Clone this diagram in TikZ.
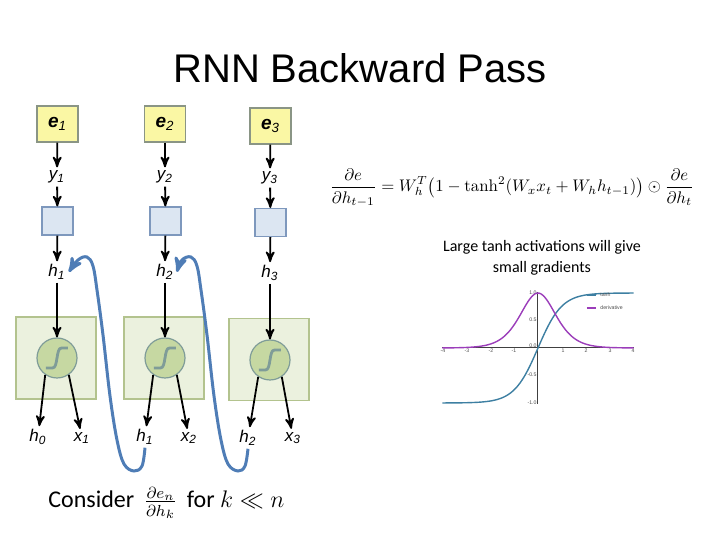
\RequirePackage{fix-cm}
\documentclass[tikz,border=0pt]{standalone}
\usepackage{amsmath,amssymb}
\usepackage{fontspec}
\newfontfamily\arialfont{Liberation Sans}
\newfontfamily\calibrifont{Carlito}
\usepackage{tikz}
\usetikzlibrary{arrows}
\definecolor{eyellow}{HTML}{FAF7A4}
\definecolor{erim}{HTML}{8A9585}
\definecolor{outblue}{HTML}{DCE6F2}
\definecolor{outrim}{HTML}{7E98BD}
\definecolor{cellgreen}{HTML}{EBF1DE}
\definecolor{cellrim}{HTML}{B3C38E}
\definecolor{actgreen}{HTML}{C6D8A2}
\definecolor{actrim}{HTML}{7F9C98}
\definecolor{backblue}{HTML}{4F7DB6}
\definecolor{tanhcol}{HTML}{3D7FA2}
\definecolor{derivcol}{HTML}{9B3DBA}
\newcommand{\lbl}[2]{#1\textsubscript{#2}}
\tikzset{
>=stealth',
  errbox/.style={
    rectangle,
    fill=eyellow,
    draw=erim, line width=0.7pt,
    minimum width=20.5pt,
    minimum height=18pt,
    inner sep=0pt,
    font=\arialfont\fontsize{9.5}{10}\selectfont\bfseries\itshape},
  outbox/.style={
    rectangle,
    fill=outblue,
    draw=outrim, line width=0.6pt,
    minimum width=15.5pt,
    minimum height=14pt},
  cellbox/.style={
    rectangle,
    fill=cellgreen,
    draw=cellrim, line width=0.6pt,
    minimum width=40pt,
    minimum height=41pt},
  actnode/.style={
    circle,
    fill=actgreen,
    draw=actrim, line width=0.6pt,
    minimum size=20pt,
    inner sep=0pt,
    path picture={
      \draw[line width=1.4pt]
        ([shift={(-5.5pt,-5pt)}]path picture bounding box.center)
        -- ([shift={(-2.2pt,-5pt)}]path picture bounding box.center)
        .. controls ([shift={(0.6pt,-5pt)}]path picture bounding box.center)
        and ([shift={(-0.6pt,5pt)}]path picture bounding box.center)
        .. ([shift={(2.2pt,5pt)}]path picture bounding box.center)
        -- ([shift={(5.5pt,5pt)}]path picture bounding box.center);
    }},
  vlabel/.style={
    inner sep=1.5pt,
    font=\arialfont\fontsize{8.5}{9}\selectfont\itshape},
  flow/.style={draw, ->, line width=0.9pt},
  backflow/.style={draw=backblue, ->, line width=1.5pt},
  axisline/.style={draw=black!75, line width=0.5pt},
  ticklbl/.style={inner sep=0pt, font=\arialfont\fontsize{2.6}{3}\selectfont, text=black!70},
}

\begin{document}
\begin{tikzpicture}[x=0.5pt, y=-0.5pt]
  \useasboundingbox (0,0) rectangle (720,540);

  % title
  \node[font=\arialfont\fontsize{20}{24}\selectfont] (title) at (360,68) {RNN Backward Pass};

  % loss boxes and outputs
  \node[errbox] (e1) at (57.5,124)  {e\textsubscript{\mdseries 1}};
  \node[errbox] (e2) at (165,124)   {e\textsubscript{\mdseries 2}};
  \node[errbox] (e3) at (270.5,126) {e\textsubscript{\mdseries 3}};
  \node[vlabel] (y1) at (57,177)  {\lbl{y}{1}};
  \node[vlabel] (y2) at (165,177) {\lbl{y}{2}};
  \node[vlabel] (y3) at (270,178) {\lbl{y}{3}};
  \node[outbox] (out1) at (57.5,221)  {};
  \node[outbox] (out2) at (165.5,221) {};
  \node[outbox] (out3) at (270.5,222.5) {};
  \node[vlabel] (ht1) at (57,272)  {\lbl{h}{1}};
  \node[vlabel] (ht2) at (165,272) {\lbl{h}{2}};
  \node[vlabel] (ht3) at (270,273) {\lbl{h}{3}};

  % cells
  \node[cellbox] (cell1) at (56,358)    {};
  \node[cellbox] (cell2) at (164,358)   {};
  \node[cellbox] (cell3) at (269,359.5) {};
  \node[actnode] (act1) at (57,358)  {};
  \node[actnode] (act2) at (165,358) {};
  \node[actnode] (act3) at (270,360) {};
  \node[vlabel] (hb1) at (38,437)  {\lbl{h}{0}};
  \node[vlabel] (xb1) at (82,438)  {\lbl{x}{1}};
  \node[vlabel] (hb2) at (145,437) {\lbl{h}{1}};
  \node[vlabel] (xb2) at (189,438) {\lbl{x}{2}};
  \node[vlabel] (hb3) at (248,438) {\lbl{h}{2}};
  \node[vlabel] (xb3) at (293,438) {\lbl{x}{3}};

  \draw[flow] (e1) -- (y1);   \draw[flow] (e2) -- (y2);   \draw[flow] (e3) -- (y3);
  \draw[flow] (y1) -- (out1); \draw[flow] (y2) -- (out2); \draw[flow] (y3) -- (out3);
  \draw[flow] (out1) -- (ht1); \draw[flow] (out2) -- (ht2); \draw[flow] (out3) -- (ht3);
  \draw[flow] (ht1) -- (act1); \draw[flow] (ht2) -- (act2); \draw[flow] (ht3) -- (act3);
  \draw[flow] (act1.235) -- (hb1); \draw[flow] (act1.-55) -- (xb1);
  \draw[flow] (act2.235) -- (hb2); \draw[flow] (act2.-55) -- (xb2);
  \draw[flow] (act3.235) -- (hb3); \draw[flow] (act3.-55) -- (xb3);

  % gradient flowing back
  \draw[backflow] plot[smooth, tension=0.6] coordinates {(hb2.south) (142,466) (134,471) (124,464) (117,440) (110,396) (103,335) (97,290) (93,266) (87,257) (78,260) (ht1.east)};
  \draw[backflow] plot[smooth, tension=0.6] coordinates {(hb3.south) (245,466) (238,471) (228,464) (221,440) (214,396) (207,335) (201,290) (197,266) (191,257) (182,260) (ht2.east)};

  % formula and note
  \node (formula) at (512,188) {\scalebox{0.84}{$\displaystyle \frac{\partial e}{\partial h_{t-1}} = W_h^{T}\bigl(1-\tanh^2(W_x x_t + W_h h_{t-1})\bigr)\odot\frac{\partial e}{\partial h_t}$}};
  \node[align=center, font=\calibrifont\fontsize{8}{10.5}\selectfont] (note) at (542,258) {Large tanh activations will give\\small gradients};

  % tanh plot
  \draw[axisline] (442,348) -- (634,348);
  \draw[axisline] (538,292) -- (538,404);
  \node[ticklbl] (tx1) at (443,351) {-4}; \node[ticklbl] (tx2) at (467,351) {-3};
  \node[ticklbl] (tx3) at (491,351) {-2}; \node[ticklbl] (tx4) at (514,351) {-1};
  \node[ticklbl] (tx5) at (563,351) {1}; \node[ticklbl] (tx6) at (586,351) {2};
  \node[ticklbl] (tx7) at (610,351) {3}; \node[ticklbl] (tx8) at (633,351) {4};
  \node[ticklbl] (ty1) at (533,293) {1.0}; \node[ticklbl] (ty2) at (533,320) {0.5};
  \node[ticklbl] (ty3) at (533,346) {0.0}; \node[ticklbl] (ty4) at (532,375) {-0.5};
  \node[ticklbl] (ty5) at (532,403) {-1.0};
  \draw[tanhcol, line width=0.7pt] plot[domain=-4:4, samples=80, smooth] ({538+23.9*\x},{348-55*tanh(\x)});
  \draw[derivcol, line width=0.7pt] plot[domain=-4:4, samples=80, smooth] ({538+23.9*\x},{348-55*(1-tanh(\x)^2)});
  \draw[tanhcol, line width=0.6pt] (587,295) -- (596,295);
  \draw[derivcol, line width=0.6pt] (587,308) -- (596,308);
  \node[ticklbl, anchor=west] (leg1) at (600,295) {tanh};
  \node[ticklbl, anchor=west] (leg2) at (600,308) {derivative};

  % bottom line
  \node[anchor=west, inner sep=0pt, font=\calibrifont\fontsize{12}{14}\selectfont] (consider) at (48,503) {Consider\ \,$\frac{\partial e_n}{\partial h_k}$\ \,for\ $k \ll n$};
\end{tikzpicture}
\end{document}
